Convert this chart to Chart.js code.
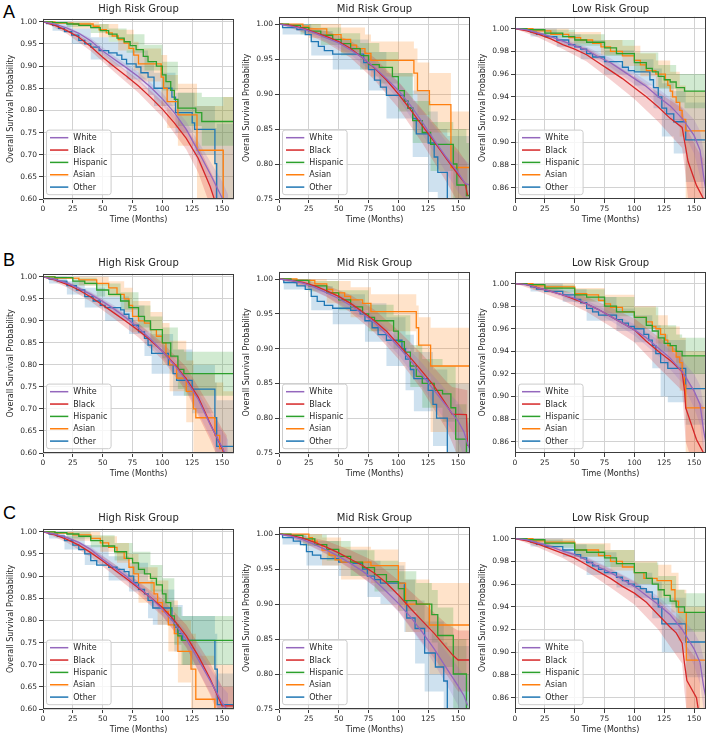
<!DOCTYPE html>
<html>
<head>
<meta charset="utf-8">
<script src="https://cdn.jsdelivr.net/npm/chart.js@4.4.1/dist/chart.umd.min.js"></script>
<style>
  body { margin: 0; background: #fff; }
  #fig { position: relative; width: 709px; height: 739px; overflow: hidden; background: #fff; }
  #fig canvas { position: absolute; }
  .tag { position: absolute; left: 3px; font: 18px "Liberation Sans", Arial, sans-serif; line-height: 18px; color: #000; }
</style>
</head>
<body>
<div id="fig">
  <div class="tag" style="top:2.6px">A</div>
  <div class="tag" style="top:251px">B</div>
  <div class="tag" style="top:504px">C</div>
</div>
<script>
// ── Series / axes ─────────────────────────────────────────────
const SERIES = ["White", "Black", "Hispanic", "Asian", "Other"];
const COLORS = ["#9467bd", "#d62728", "#2ca02c", "#ff7f0e", "#1f77b4"];
const SMOOTH = [true, true, false, false, false];   // large groups look like smooth curves
const X_TICKS = { min: 0, max: 160, step: 25 };
const Y_HIGH = { min: 0.60, max: 1.007, step: 0.05 };
const Y_MID  = { min: 0.75, max: 1.0105, step: 0.05 };
const Y_LOW  = { min: 0.85, max: 1.0105, step: 0.02 };

// ── Data: curves are [month, survival], bands are [month, lower, upper] ──
// Row A
const A_HIGH_WHITE = [[0,1],[10,0.995],[20,0.986],[30,0.974],[40,0.957],[50,0.934],[60,0.915],[70,0.896],[80,0.876],[90,0.853],[100,0.826],[110,0.795],[120,0.757],[130,0.708],[140,0.657],[150,0.603],[155,0.57]];
const A_HIGH_WHITE_CI = [[0,1,1],[20,0.982,0.99],[40,0.951,0.963],[60,0.907,0.922],[80,0.866,0.886],[100,0.813,0.839],[120,0.738,0.775],[140,0.628,0.685],[150,0.565,0.64],[155,0.53,0.61]];
const A_HIGH_BLACK = [[0,1],[10,0.992],[20,0.98],[30,0.965],[40,0.944],[50,0.92],[60,0.898],[70,0.877],[80,0.855],[90,0.83],[100,0.803],[110,0.772],[120,0.737],[130,0.692],[140,0.628],[146,0.58]];
const A_HIGH_BLACK_CI = [[0,1,1],[20,0.973,0.986],[40,0.934,0.953],[60,0.886,0.91],[80,0.84,0.869],[100,0.785,0.82],[120,0.712,0.76],[130,0.66,0.72],[140,0.585,0.665],[146,0.53,0.63]];
const A_HIGH_HISP = [[0,1],[8,0.998],[20,0.995],[30,0.992],[40,0.987],[48,0.98],[55,0.972],[62,0.963],[68,0.955],[73,0.946],[78,0.937],[84,0.922],[88,0.91],[95,0.9],[100,0.88],[103,0.865],[107,0.845],[110,0.825],[113,0.805],[128,0.795],[133,0.775],[160,0.775]];
const A_HIGH_HISP_CI = [[0,1,1],[20,0.988,0.999],[40,0.975,0.995],[55,0.955,0.985],[70,0.93,0.972],[85,0.89,0.948],[100,0.845,0.91],[113,0.765,0.84],[133,0.72,0.83],[160,0.71,0.83]];
const A_HIGH_ASIAN = [[0,1],[10,0.997],[25,0.995],[42,0.99],[47,0.982],[53,0.975],[58,0.968],[63,0.96],[68,0.952],[72,0.94],[76,0.925],[80,0.905],[99,0.875],[101,0.85],[104,0.82],[113,0.79],[129,0.71],[151,0.5],[160,0.5]];
const A_HIGH_ASIAN_CI = [[0,1,1],[25,0.985,1],[47,0.965,0.995],[63,0.935,0.982],[76,0.89,0.955],[80,0.865,0.94],[99,0.81,0.925],[104,0.76,0.88],[113,0.72,0.86],[129,0.58,0.81],[151,0.45,0.83],[160,0.45,0.83]];
const A_HIGH_OTHER = [[0,1],[3,0.996],[8,0.992],[13,0.985],[18,0.978],[24,0.97],[30,0.958],[35,0.95],[40,0.943],[47,0.935],[55,0.93],[62,0.925],[66,0.915],[70,0.905],[78,0.898],[82,0.885],[88,0.875],[93,0.85],[108,0.83],[111,0.795],[125,0.772],[127,0.757],[144,0.68],[145.5,0.5],[160,0.5]];
const A_HIGH_OTHER_CI = [[0,1,1],[8,0.98,1],[24,0.95,0.985],[40,0.915,0.965],[55,0.9,0.955],[70,0.87,0.935],[88,0.835,0.91],[93,0.81,0.885],[111,0.75,0.84],[127,0.7,0.81],[144,0.6,0.76],[145.5,0.5,0.77],[160,0.5,0.77]];

const A_MID_WHITE = [[0,1],[10,0.997],[20,0.993],[30,0.987],[40,0.98],[50,0.973],[60,0.963],[70,0.952],[80,0.938],[90,0.922],[100,0.905],[110,0.884],[120,0.86],[130,0.834],[140,0.81],[150,0.788],[156,0.772],[160,0.77]];
const A_MID_WHITE_CI = [[0,1,1],[20,0.99,0.996],[40,0.975,0.985],[60,0.956,0.97],[80,0.929,0.947],[100,0.893,0.917],[120,0.843,0.876],[140,0.788,0.832],[150,0.76,0.815],[160,0.74,0.8]];
const A_MID_BLACK = [[0,1],[10,0.998],[20,0.994],[30,0.988],[40,0.982],[50,0.975],[60,0.965],[70,0.952],[80,0.937],[90,0.92],[100,0.9],[110,0.878],[120,0.855],[130,0.832],[140,0.808],[150,0.785],[156,0.772],[158,0.755]];
const A_MID_BLACK_CI = [[0,1,1],[20,0.988,0.998],[40,0.973,0.99],[60,0.952,0.976],[80,0.92,0.952],[100,0.88,0.918],[120,0.83,0.878],[140,0.775,0.838],[150,0.745,0.82],[158,0.72,0.8]];
const A_MID_HISP = [[0,1],[8,0.998],[18,0.995],[25,0.99],[35,0.984],[45,0.978],[52,0.972],[60,0.965],[68,0.955],[75,0.942],[84,0.938],[95,0.925],[100,0.905],[105,0.89],[108,0.88],[112,0.862],[120,0.845],[127,0.828],[146,0.8],[149,0.77],[157,0.755],[160,0.755]];
const A_MID_HISP_CI = [[0,1,1],[18,0.985,1],[35,0.97,0.995],[52,0.955,0.987],[68,0.935,0.973],[84,0.915,0.96],[100,0.875,0.93],[112,0.83,0.89],[127,0.79,0.86],[146,0.75,0.85],[157,0.73,0.83],[160,0.73,0.83]];
const A_MID_ASIAN = [[0,1],[20,0.997],[25,0.993],[40,0.985],[52,0.978],[60,0.97],[65,0.965],[72,0.958],[77,0.948],[113,0.93],[116,0.905],[126,0.885],[144,0.795],[160,0.795]];
const A_MID_ASIAN_CI = [[0,1,1],[25,0.98,1],[52,0.96,0.995],[72,0.935,0.985],[77,0.925,0.975],[113,0.9,0.965],[116,0.87,0.945],[126,0.845,0.93],[144,0.73,0.875],[160,0.73,0.875]];
const A_MID_OTHER = [[0,1],[3,0.995],[15,0.992],[22,0.985],[27,0.975],[33,0.968],[38,0.962],[45,0.957],[71,0.945],[75,0.935],[80,0.92],[85,0.91],[90,0.898],[105,0.89],[108,0.88],[112,0.865],[115,0.843],[125,0.83],[130,0.81],[133,0.788],[141,0.7],[160,0.7]];
const A_MID_OTHER_CI = [[0,1,1],[3,0.985,1],[27,0.955,0.99],[45,0.935,0.978],[75,0.905,0.96],[90,0.865,0.93],[112,0.81,0.905],[125,0.76,0.875],[133,0.72,0.85],[141,0.7,0.84],[160,0.7,0.84]];

const A_LOW_WHITE = [[0,1],[10,0.999],[20,0.996],[30,0.993],[40,0.989],[50,0.985],[60,0.981],[70,0.975],[80,0.97],[90,0.963],[100,0.956],[110,0.949],[120,0.94],[130,0.932],[140,0.921],[150,0.906],[155,0.893],[158,0.87],[160,0.857]];
const A_LOW_WHITE_CI = [[0,1,1],[20,0.995,0.997],[40,0.987,0.991],[60,0.978,0.984],[80,0.966,0.974],[100,0.951,0.961],[120,0.933,0.947],[140,0.911,0.931],[150,0.89,0.92],[155,0.87,0.91],[160,0.83,0.88]];
const A_LOW_BLACK = [[0,1],[10,0.998],[20,0.995],[30,0.991],[40,0.986],[50,0.982],[60,0.977],[70,0.97],[80,0.963],[90,0.956],[100,0.948],[110,0.94],[120,0.931],[130,0.921],[140,0.913],[143,0.895],[145,0.883],[152,0.862],[158,0.85]];
const A_LOW_BLACK_CI = [[0,1,1],[20,0.992,0.997],[40,0.982,0.99],[60,0.971,0.983],[80,0.955,0.971],[100,0.938,0.958],[120,0.918,0.944],[140,0.895,0.93],[143,0.87,0.915],[145,0.85,0.91],[152,0.83,0.895],[158,0.82,0.885]];
const A_LOW_HISP = [[0,1],[10,0.999],[25,0.996],[40,0.993],[50,0.99],[60,0.988],[75,0.983],[85,0.978],[100,0.97],[110,0.965],[115,0.962],[120,0.958],[125,0.955],[130,0.953],[135,0.948],[142,0.945],[160,0.945]];
const A_LOW_HISP_CI = [[0,1,1],[25,0.992,0.999],[50,0.985,0.995],[75,0.976,0.99],[100,0.962,0.979],[120,0.947,0.968],[135,0.935,0.96],[142,0.93,0.96],[160,0.93,0.96]];
const A_LOW_ASIAN = [[0,1],[15,0.998],[30,0.995],[45,0.992],[55,0.99],[65,0.987],[72,0.984],[80,0.98],[90,0.976],[100,0.972],[105,0.968],[110,0.963],[118,0.96],[126,0.955],[128,0.95],[130,0.945],[132,0.94],[135,0.935],[138,0.928],[140,0.92],[143,0.91],[160,0.91]];
const A_LOW_ASIAN_CI = [[0,1,1],[15,0.995,1],[45,0.987,0.997],[72,0.977,0.99],[90,0.967,0.985],[105,0.958,0.978],[118,0.948,0.972],[130,0.928,0.962],[138,0.905,0.95],[143,0.83,0.945],[160,0.83,0.945]];
const A_LOW_OTHER = [[0,1],[10,0.999],[13,0.997],[18,0.995],[25,0.993],[35,0.99],[45,0.986],[50,0.984],[55,0.982],[60,0.978],[65,0.975],[75,0.971],[90,0.966],[95,0.963],[100,0.962],[113,0.955],[116,0.948],[120,0.94],[123,0.93],[127,0.925],[133,0.918],[143,0.902],[160,0.902]];
const A_LOW_OTHER_CI = [[0,1,1],[13,0.993,1],[35,0.984,0.995],[55,0.973,0.99],[75,0.96,0.981],[100,0.95,0.973],[116,0.93,0.965],[123,0.905,0.952],[133,0.89,0.945],[143,0.865,0.935],[160,0.865,0.935]];

// Row B
const B_HIGH_WHITE = [[0,1],[10,0.994],[20,0.986],[30,0.974],[40,0.96],[50,0.944],[60,0.926],[70,0.906],[80,0.884],[90,0.859],[100,0.831],[110,0.8],[120,0.765],[130,0.722],[140,0.665],[150,0.613],[155,0.585]];
const B_HIGH_WHITE_CI = [[0,1,1],[20,0.982,0.99],[40,0.954,0.966],[60,0.918,0.934],[80,0.874,0.894],[100,0.818,0.844],[120,0.746,0.784],[140,0.637,0.693],[150,0.575,0.65],[155,0.54,0.63]];
const B_HIGH_BLACK = [[0,1],[10,0.993],[20,0.983],[30,0.97],[40,0.954],[50,0.936],[60,0.917],[70,0.898],[80,0.878],[90,0.856],[100,0.831],[110,0.802],[120,0.768],[130,0.727],[140,0.667],[150,0.61],[154,0.585]];
const B_HIGH_BLACK_CI = [[0,1,1],[20,0.976,0.99],[40,0.944,0.964],[60,0.904,0.93],[80,0.862,0.894],[100,0.812,0.85],[120,0.74,0.795],[140,0.63,0.705],[150,0.565,0.655],[154,0.53,0.64]];
const B_HIGH_HISP = [[0,1],[10,0.998],[25,0.99],[35,0.985],[45,0.97],[55,0.96],[65,0.945],[72,0.93],[80,0.91],[85,0.9],[90,0.88],[100,0.85],[107,0.82],[113,0.79],[118,0.78],[160,0.78]];
const B_HIGH_HISP_CI = [[0,1,1],[25,0.98,0.998],[45,0.955,0.985],[65,0.925,0.965],[80,0.885,0.935],[90,0.85,0.91],[100,0.815,0.885],[113,0.745,0.835],[118,0.73,0.83],[160,0.71,0.83]];
const B_HIGH_ASIAN = [[0,1],[10,0.997],[30,0.993],[45,0.985],[55,0.975],[62,0.96],[68,0.95],[72,0.935],[75,0.91],[80,0.9],[85,0.895],[90,0.88],[95,0.865],[100,0.85],[103,0.82],[106,0.8],[112,0.77],[120,0.74],[126,0.7],[128,0.68],[144,0.64],[148,0.61],[151,0.55],[160,0.55]];
const B_HIGH_ASIAN_CI = [[0,1,1],[30,0.98,1],[55,0.955,0.99],[68,0.92,0.975],[75,0.875,0.945],[90,0.84,0.92],[100,0.8,0.895],[106,0.74,0.855],[120,0.67,0.81],[126,0.58,0.78],[144,0.55,0.76],[151,0.5,0.74],[160,0.5,0.74]];
const B_HIGH_OTHER = [[0,1],[5,0.995],[12,0.99],[20,0.98],[28,0.97],[35,0.955],[42,0.945],[48,0.935],[52,0.93],[65,0.925],[68,0.915],[72,0.905],[75,0.89],[80,0.875],[85,0.86],[88,0.845],[91,0.826],[105,0.8],[109,0.78],[112,0.765],[125,0.745],[144,0.68],[145.5,0.615],[160,0.615]];
const B_HIGH_OTHER_CI = [[0,1,1],[5,0.985,1],[20,0.96,0.99],[35,0.93,0.975],[52,0.9,0.955],[72,0.87,0.935],[85,0.82,0.9],[91,0.78,0.87],[109,0.73,0.835],[125,0.69,0.8],[144,0.6,0.76],[145.5,0.56,0.72],[160,0.56,0.72]];

const B_MID_WHITE = [[0,1],[10,0.998],[20,0.994],[30,0.988],[40,0.98],[50,0.972],[60,0.962],[70,0.95],[80,0.937],[90,0.921],[100,0.903],[110,0.883],[120,0.862],[130,0.84],[140,0.818],[150,0.796],[155,0.78],[158,0.763],[160,0.755]];
const B_MID_WHITE_CI = [[0,1,1],[20,0.991,0.997],[40,0.975,0.985],[60,0.955,0.969],[80,0.928,0.946],[100,0.891,0.915],[120,0.845,0.879],[140,0.795,0.84],[150,0.768,0.823],[158,0.73,0.795],[160,0.72,0.79]];
const B_MID_BLACK = [[0,1],[10,0.998],[20,0.995],[30,0.99],[40,0.983],[50,0.975],[60,0.965],[70,0.953],[80,0.94],[90,0.925],[100,0.906],[110,0.887],[120,0.867],[130,0.846],[140,0.82],[145,0.806],[157,0.805],[158,0.76]];
const B_MID_BLACK_CI = [[0,1,1],[20,0.99,0.999],[40,0.974,0.991],[60,0.952,0.977],[80,0.923,0.956],[100,0.885,0.926],[120,0.84,0.892],[140,0.785,0.853],[145,0.765,0.845],[158,0.71,0.84]];
const B_MID_HISP = [[0,1],[10,0.998],[25,0.99],[40,0.98],[50,0.97],[60,0.96],[70,0.95],[75,0.945],[80,0.94],[96,0.925],[100,0.91],[105,0.895],[110,0.875],[115,0.86],[120,0.85],[130,0.84],[137,0.835],[144,0.815],[148,0.77],[157,0.75],[160,0.75]];
const B_MID_HISP_CI = [[0,1,1],[25,0.982,0.997],[50,0.955,0.984],[75,0.925,0.963],[96,0.9,0.948],[110,0.845,0.905],[120,0.815,0.885],[137,0.795,0.875],[148,0.725,0.82],[157,0.7,0.8],[160,0.7,0.8]];
const B_MID_ASIAN = [[0,1],[15,0.998],[30,0.993],[40,0.985],[45,0.98],[55,0.975],[60,0.97],[70,0.965],[77,0.953],[115,0.93],[117,0.905],[127,0.875],[160,0.875]];
const B_MID_ASIAN_CI = [[0,1,1],[15,0.99,1],[40,0.965,0.997],[60,0.945,0.988],[77,0.925,0.978],[115,0.895,0.962],[117,0.86,0.945],[127,0.78,0.93],[160,0.78,0.93]];
const B_MID_OTHER = [[0,1],[4,0.995],[15,0.99],[22,0.985],[27,0.975],[32,0.968],[38,0.962],[45,0.958],[60,0.955],[68,0.95],[72,0.94],[78,0.93],[83,0.92],[90,0.912],[103,0.9],[106,0.885],[110,0.87],[113,0.857],[125,0.84],[129,0.82],[132,0.8],[141,0.7],[160,0.7]];
const B_MID_OTHER_CI = [[0,1,1],[4,0.985,1],[27,0.955,0.99],[45,0.935,0.978],[72,0.91,0.965],[90,0.875,0.945],[106,0.84,0.92],[113,0.81,0.895],[129,0.76,0.87],[141,0.72,0.85],[160,0.72,0.85]];

const B_LOW_WHITE = [[0,1],[10,0.999],[20,0.996],[30,0.993],[40,0.99],[50,0.987],[60,0.982],[70,0.977],[80,0.971],[90,0.965],[100,0.959],[110,0.952],[120,0.943],[130,0.934],[140,0.922],[150,0.905],[155,0.893],[158,0.87],[160,0.858]];
const B_LOW_WHITE_CI = [[0,1,1],[20,0.995,0.997],[40,0.988,0.992],[60,0.979,0.985],[80,0.967,0.975],[100,0.954,0.964],[120,0.936,0.95],[140,0.912,0.932],[150,0.89,0.92],[155,0.875,0.91],[160,0.835,0.88]];
const B_LOW_BLACK = [[0,1],[10,0.999],[20,0.996],[30,0.993],[40,0.99],[50,0.986],[60,0.982],[70,0.977],[80,0.971],[90,0.965],[100,0.959],[110,0.949],[120,0.94],[130,0.932],[140,0.922],[142,0.905],[143,0.89],[152,0.862],[158,0.85]];
const B_LOW_BLACK_CI = [[0,1,1],[20,0.993,0.998],[40,0.985,0.994],[60,0.975,0.988],[80,0.962,0.979],[100,0.948,0.969],[120,0.926,0.953],[140,0.905,0.938],[143,0.86,0.92],[152,0.83,0.9],[158,0.82,0.89]];
const B_LOW_HISP = [[0,1],[10,0.999],[25,0.996],[50,0.99],[60,0.988],[75,0.98],[85,0.975],[100,0.97],[110,0.963],[115,0.958],[120,0.952],[125,0.947],[130,0.945],[135,0.94],[140,0.936],[160,0.936]];
const B_LOW_HISP_CI = [[0,1,1],[25,0.992,0.999],[50,0.984,0.995],[75,0.971,0.988],[100,0.96,0.979],[120,0.94,0.963],[135,0.925,0.955],[140,0.92,0.952],[160,0.92,0.952]];
const B_LOW_ASIAN = [[0,1],[15,0.998],[25,0.997],[50,0.991],[60,0.99],[70,0.985],[75,0.982],[80,0.979],[90,0.975],[100,0.97],[110,0.966],[115,0.962],[118,0.96],[122,0.955],[126,0.95],[128,0.945],[132,0.94],[135,0.935],[138,0.93],[140,0.92],[142,0.91],[143,0.89],[160,0.89]];
const B_LOW_ASIAN_CI = [[0,1,1],[15,0.995,1],[50,0.985,0.996],[75,0.974,0.99],[100,0.96,0.98],[118,0.947,0.972],[128,0.93,0.962],[138,0.905,0.952],[143,0.85,0.94],[160,0.85,0.94]];
const B_LOW_OTHER = [[0,1],[10,0.999],[13,0.997],[18,0.995],[25,0.993],[40,0.99],[50,0.986],[55,0.983],[60,0.978],[65,0.975],[70,0.972],[85,0.968],[90,0.965],[95,0.962],[100,0.96],[108,0.955],[112,0.95],[115,0.945],[118,0.938],[122,0.93],[128,0.925],[143,0.907],[160,0.907]];
const B_LOW_OTHER_CI = [[0,1,1],[13,0.993,1],[40,0.984,0.995],[60,0.967,0.988],[85,0.958,0.978],[100,0.948,0.972],[115,0.925,0.963],[122,0.9,0.955],[128,0.895,0.95],[143,0.875,0.935],[160,0.875,0.935]];

// Row C
const C_HIGH_WHITE = [[0,1],[10,0.995],[20,0.987],[30,0.976],[40,0.96],[50,0.938],[60,0.919],[70,0.899],[80,0.876],[90,0.852],[100,0.825],[110,0.794],[120,0.757],[130,0.712],[140,0.664],[150,0.615],[155,0.595]];
const C_HIGH_WHITE_CI = [[0,1,1],[20,0.983,0.991],[40,0.954,0.966],[60,0.911,0.927],[80,0.866,0.886],[100,0.812,0.838],[120,0.738,0.776],[140,0.636,0.692],[150,0.58,0.65],[155,0.555,0.635]];
const C_HIGH_BLACK = [[0,1],[10,0.993],[20,0.983],[30,0.97],[40,0.953],[50,0.934],[60,0.914],[70,0.894],[80,0.873],[90,0.852],[100,0.829],[110,0.8],[120,0.765],[130,0.72],[140,0.668],[150,0.607],[160,0.607]];
const C_HIGH_BLACK_CI = [[0,1,1],[20,0.976,0.99],[40,0.943,0.963],[60,0.901,0.927],[80,0.858,0.888],[100,0.81,0.848],[120,0.74,0.79],[140,0.632,0.704],[150,0.565,0.65],[160,0.565,0.65]];
const C_HIGH_HISP = [[0,1],[10,0.998],[20,0.995],[30,0.99],[40,0.98],[50,0.968],[60,0.955],[70,0.94],[75,0.93],[80,0.915],[85,0.905],[90,0.895],[95,0.88],[100,0.86],[103,0.84],[107,0.81],[110,0.79],[113,0.765],[116,0.755],[160,0.755]];
const C_HIGH_HISP_CI = [[0,1,1],[20,0.985,1],[40,0.965,0.992],[60,0.935,0.975],[75,0.905,0.955],[90,0.865,0.925],[100,0.82,0.895],[110,0.745,0.83],[116,0.7,0.81],[160,0.7,0.81]];
const C_HIGH_ASIAN = [[0,1],[10,0.997],[25,0.993],[40,0.985],[48,0.975],[55,0.965],[62,0.955],[68,0.94],[72,0.92],[76,0.905],[80,0.885],[93,0.86],[96,0.84],[100,0.82],[105,0.79],[110,0.77],[113,0.73],[124,0.69],[128,0.622],[144,0.55],[160,0.55]];
const C_HIGH_ASIAN_CI = [[0,1,1],[25,0.98,1],[48,0.955,0.99],[62,0.93,0.975],[72,0.885,0.95],[80,0.84,0.92],[96,0.79,0.89],[105,0.73,0.845],[113,0.66,0.8],[124,0.6,0.77],[128,0.53,0.72],[144,0.5,0.7],[160,0.5,0.7]];
const C_HIGH_OTHER = [[0,1],[5,0.995],[12,0.99],[18,0.98],[25,0.97],[30,0.96],[35,0.95],[40,0.935],[45,0.925],[55,0.92],[62,0.915],[68,0.91],[72,0.9],[76,0.885],[80,0.87],[85,0.86],[88,0.845],[92,0.828],[108,0.8],[110,0.785],[113,0.77],[117,0.755],[144,0.69],[146,0.61],[160,0.61]];
const C_HIGH_OTHER_CI = [[0,1,1],[5,0.985,1],[18,0.96,0.99],[35,0.925,0.97],[55,0.89,0.945],[72,0.865,0.93],[88,0.805,0.89],[92,0.79,0.87],[110,0.73,0.835],[117,0.7,0.81],[144,0.62,0.77],[146,0.56,0.68],[160,0.56,0.68]];

const C_MID_WHITE = [[0,1],[10,0.997],[20,0.992],[30,0.985],[40,0.977],[50,0.968],[60,0.958],[70,0.947],[80,0.934],[90,0.918],[100,0.901],[110,0.882],[120,0.86],[130,0.836],[140,0.809],[150,0.783],[155,0.769],[158,0.755]];
const C_MID_WHITE_CI = [[0,1,1],[20,0.989,0.995],[40,0.972,0.982],[60,0.951,0.965],[80,0.925,0.943],[100,0.889,0.913],[120,0.843,0.877],[140,0.786,0.832],[150,0.755,0.81],[158,0.72,0.79]];
const C_MID_BLACK = [[0,1],[10,0.998],[20,0.994],[30,0.988],[40,0.981],[50,0.973],[60,0.964],[70,0.955],[80,0.944],[90,0.93],[100,0.913],[110,0.894],[120,0.876],[130,0.858],[140,0.838],[145,0.828],[150,0.82],[160,0.82]];
const C_MID_BLACK_CI = [[0,1,1],[20,0.988,0.998],[40,0.971,0.99],[60,0.95,0.977],[80,0.925,0.961],[100,0.89,0.934],[120,0.845,0.903],[140,0.8,0.872],[150,0.775,0.862],[160,0.775,0.862]];
const C_MID_HISP = [[0,1],[10,0.998],[20,0.993],[30,0.985],[40,0.978],[50,0.968],[60,0.96],[70,0.952],[80,0.942],[90,0.932],[100,0.922],[105,0.905],[115,0.9],[128,0.885],[133,0.855],[146,0.8],[157,0.7],[160,0.7]];
const C_MID_HISP_CI = [[0,1,1],[20,0.983,0.999],[40,0.962,0.99],[60,0.94,0.977],[80,0.918,0.962],[100,0.89,0.947],[115,0.865,0.93],[128,0.845,0.92],[133,0.81,0.895],[146,0.75,0.85],[157,0.7,0.8],[160,0.7,0.8]];
const C_MID_ASIAN = [[0,1],[25,0.995],[28,0.99],[32,0.985],[36,0.977],[42,0.97],[47,0.963],[52,0.96],[77,0.955],[100,0.93],[106,0.9],[126,0.87],[160,0.87]];
const C_MID_ASIAN_CI = [[0,1,1],[25,0.985,1],[36,0.955,0.995],[52,0.935,0.982],[77,0.93,0.978],[100,0.895,0.96],[106,0.86,0.935],[126,0.8,0.93],[160,0.8,0.93]];
const C_MID_OTHER = [[0,1],[3,0.995],[12,0.99],[18,0.985],[23,0.975],[28,0.97],[35,0.965],[50,0.96],[62,0.958],[70,0.95],[74,0.94],[80,0.935],[85,0.93],[105,0.905],[107,0.88],[114,0.865],[122,0.83],[131,0.81],[138,0.79],[141,0.7],[160,0.7]];
const C_MID_OTHER_CI = [[0,1,1],[3,0.985,1],[23,0.955,0.99],[50,0.94,0.978],[74,0.91,0.962],[85,0.9,0.955],[105,0.86,0.935],[114,0.815,0.905],[122,0.775,0.875],[138,0.73,0.845],[141,0.7,0.84],[160,0.7,0.84]];

const C_LOW_WHITE = [[0,1],[10,0.999],[20,0.996],[30,0.993],[40,0.989],[50,0.986],[60,0.981],[70,0.975],[80,0.97],[90,0.964],[100,0.958],[110,0.95],[120,0.942],[130,0.933],[140,0.92],[150,0.903],[155,0.891],[158,0.87],[160,0.86]];
const C_LOW_WHITE_CI = [[0,1,1],[20,0.995,0.997],[40,0.987,0.991],[60,0.978,0.984],[80,0.966,0.974],[100,0.953,0.963],[120,0.935,0.949],[140,0.91,0.93],[150,0.888,0.918],[155,0.872,0.908],[160,0.835,0.885]];
const C_LOW_BLACK = [[0,1],[10,0.998],[20,0.995],[30,0.991],[40,0.987],[50,0.983],[60,0.977],[70,0.971],[80,0.965],[90,0.958],[100,0.952],[110,0.944],[120,0.933],[130,0.922],[135,0.917],[140,0.908],[142,0.89],[144,0.875],[152,0.86],[155,0.84]];
const C_LOW_BLACK_CI = [[0,1,1],[20,0.992,0.998],[40,0.983,0.991],[60,0.971,0.983],[80,0.957,0.973],[100,0.942,0.962],[120,0.92,0.946],[140,0.89,0.926],[142,0.865,0.915],[144,0.845,0.905],[155,0.82,0.89]];
const C_LOW_HISP = [[0,1],[10,0.999],[25,0.996],[50,0.99],[60,0.988],[75,0.983],[85,0.978],[100,0.97],[110,0.965],[115,0.96],[120,0.955],[125,0.95],[130,0.945],[135,0.94],[142,0.935],[160,0.935]];
const C_LOW_HISP_CI = [[0,1,1],[25,0.992,0.999],[50,0.984,0.995],[75,0.975,0.99],[100,0.96,0.979],[120,0.942,0.967],[135,0.925,0.955],[142,0.918,0.952],[160,0.918,0.952]];
const C_LOW_ASIAN = [[0,1],[15,0.998],[25,0.997],[50,0.99],[70,0.985],[80,0.98],[90,0.975],[100,0.97],[108,0.965],[119,0.963],[131,0.955],[134,0.945],[137,0.935],[143.5,0.893],[160,0.893]];
const C_LOW_ASIAN_CI = [[0,1,1],[15,0.995,1],[50,0.984,0.996],[80,0.972,0.99],[100,0.96,0.98],[119,0.948,0.977],[131,0.935,0.97],[137,0.91,0.955],[143.5,0.85,0.94],[160,0.85,0.94]];
const C_LOW_OTHER = [[0,1],[10,0.999],[13,0.997],[18,0.995],[25,0.993],[40,0.99],[50,0.986],[55,0.983],[60,0.979],[65,0.976],[70,0.973],[75,0.97],[85,0.966],[90,0.963],[95,0.96],[100,0.958],[105,0.956],[110,0.953],[115,0.947],[120,0.94],[123,0.925],[143,0.909],[160,0.909]];
const C_LOW_OTHER_CI = [[0,1,1],[13,0.993,1],[40,0.984,0.995],[60,0.968,0.988],[85,0.957,0.978],[100,0.948,0.97],[115,0.93,0.962],[123,0.9,0.948],[143,0.878,0.935],[160,0.878,0.935]];

// ── Layout: plot-area boxes [left, top, right, bottom] in page px ──
const ROW_TITLE_Y = [9.3, 263.3, 518.3];
const PANELS = [
  { row: 0, title: "High Risk Group", box: [43, 19, 234, 200],  y: Y_HIGH,
    curves: [A_HIGH_WHITE, A_HIGH_BLACK, A_HIGH_HISP, A_HIGH_ASIAN, A_HIGH_OTHER],
    bands:  [A_HIGH_WHITE_CI, A_HIGH_BLACK_CI, A_HIGH_HISP_CI, A_HIGH_ASIAN_CI, A_HIGH_OTHER_CI] },
  { row: 0, title: "Mid Risk Group", box: [279, 17, 470, 200], y: Y_MID,
    curves: [A_MID_WHITE, A_MID_BLACK, A_MID_HISP, A_MID_ASIAN, A_MID_OTHER],
    bands:  [A_MID_WHITE_CI, A_MID_BLACK_CI, A_MID_HISP_CI, A_MID_ASIAN_CI, A_MID_OTHER_CI] },
  { row: 0, title: "Low Risk Group", box: [515, 17, 706, 200], y: Y_LOW,
    curves: [A_LOW_WHITE, A_LOW_BLACK, A_LOW_HISP, A_LOW_ASIAN, A_LOW_OTHER],
    bands:  [A_LOW_WHITE_CI, A_LOW_BLACK_CI, A_LOW_HISP_CI, A_LOW_ASIAN_CI, A_LOW_OTHER_CI] },
  { row: 1, title: "High Risk Group", box: [43, 274, 234, 454], y: Y_HIGH,
    curves: [B_HIGH_WHITE, B_HIGH_BLACK, B_HIGH_HISP, B_HIGH_ASIAN, B_HIGH_OTHER],
    bands:  [B_HIGH_WHITE_CI, B_HIGH_BLACK_CI, B_HIGH_HISP_CI, B_HIGH_ASIAN_CI, B_HIGH_OTHER_CI] },
  { row: 1, title: "Mid Risk Group", box: [279, 272, 470, 454], y: Y_MID,
    curves: [B_MID_WHITE, B_MID_BLACK, B_MID_HISP, B_MID_ASIAN, B_MID_OTHER],
    bands:  [B_MID_WHITE_CI, B_MID_BLACK_CI, B_MID_HISP_CI, B_MID_ASIAN_CI, B_MID_OTHER_CI] },
  { row: 1, title: "Low Risk Group", box: [515, 272, 706, 454], y: Y_LOW,
    curves: [B_LOW_WHITE, B_LOW_BLACK, B_LOW_HISP, B_LOW_ASIAN, B_LOW_OTHER],
    bands:  [B_LOW_WHITE_CI, B_LOW_BLACK_CI, B_LOW_HISP_CI, B_LOW_ASIAN_CI, B_LOW_OTHER_CI] },
  { row: 2, title: "High Risk Group", box: [43, 529, 234, 710], y: Y_HIGH,
    curves: [C_HIGH_WHITE, C_HIGH_BLACK, C_HIGH_HISP, C_HIGH_ASIAN, C_HIGH_OTHER],
    bands:  [C_HIGH_WHITE_CI, C_HIGH_BLACK_CI, C_HIGH_HISP_CI, C_HIGH_ASIAN_CI, C_HIGH_OTHER_CI] },
  { row: 2, title: "Mid Risk Group", box: [279, 527, 470, 710], y: Y_MID,
    curves: [C_MID_WHITE, C_MID_BLACK, C_MID_HISP, C_MID_ASIAN, C_MID_OTHER],
    bands:  [C_MID_WHITE_CI, C_MID_BLACK_CI, C_MID_HISP_CI, C_MID_ASIAN_CI, C_MID_OTHER_CI] },
  { row: 2, title: "Low Risk Group", box: [515, 527, 706, 710], y: Y_LOW,
    curves: [C_LOW_WHITE, C_LOW_BLACK, C_LOW_HISP, C_LOW_ASIAN, C_LOW_OTHER],
    bands:  [C_LOW_WHITE_CI, C_LOW_BLACK_CI, C_LOW_HISP_CI, C_LOW_ASIAN_CI, C_LOW_OTHER_CI] },
];

// ── Style ─────────────────────────────────────────────────────
const Y_AXIS_W = 40, X_AXIS_H = 28, RIGHT_PAD = 3;
const BAND_ALPHA = 0.22;
const TEXT = "#262626";
const GRID = "#d2d2d2";
const FRAME = "#3c3c3c";
Chart.defaults.font.family = "'DejaVu Sans', sans-serif";

function rgba(hex, a) {
  const n = parseInt(hex.slice(1), 16);
  return `rgba(${n >> 16},${(n >> 8) & 255},${n & 255},${a})`;
}

// matplotlib-style frame round the plot area
const framePlugin = {
  id: "frame",
  afterDatasetsDraw(chart) {
    const { ctx, chartArea: a } = chart;
    ctx.save();
    ctx.strokeStyle = FRAME;
    ctx.lineWidth = 1;
    ctx.strokeRect(Math.round(a.left) + 0.5, Math.round(a.top) + 0.5,
                   Math.round(a.right - a.left) - 1, Math.round(a.bottom - a.top) - 1);
    ctx.restore();
  },
};

// legend box in the lower-left corner of the plot area
const cornerLegend = {
  id: "cornerLegend",
  afterDraw(chart) {
    const { ctx, chartArea: a } = chart;
    const rowH = 12.35, pad = 7.6;
    ctx.save();
    ctx.font = "8px 'DejaVu Sans'";
    const textW = Math.max(...SERIES.map(s => ctx.measureText(s).width));
    const w = 27 + textW + 3.5;
    const h = pad * 2 + rowH * (SERIES.length - 1);
    const x0 = a.left + 3.5, y0 = a.bottom - 4.3 - h, r = 2.5;
    ctx.beginPath();
    ctx.moveTo(x0 + r, y0);
    ctx.arcTo(x0 + w, y0, x0 + w, y0 + h, r);
    ctx.arcTo(x0 + w, y0 + h, x0, y0 + h, r);
    ctx.arcTo(x0, y0 + h, x0, y0, r);
    ctx.arcTo(x0, y0, x0 + w, y0, r);
    ctx.closePath();
    ctx.fillStyle = "rgba(255,255,255,0.8)";
    ctx.fill();
    ctx.strokeStyle = "#cccccc";
    ctx.lineWidth = 1;
    ctx.stroke();
    ctx.textBaseline = "middle";
    SERIES.forEach((s, i) => {
      const yy = y0 + pad + i * rowH;
      ctx.strokeStyle = COLORS[i];
      ctx.lineWidth = 1.5;
      ctx.beginPath();
      ctx.moveTo(x0 + 3.5, yy);
      ctx.lineTo(x0 + 21.8, yy);
      ctx.stroke();
      ctx.fillStyle = TEXT;
      ctx.fillText(s, x0 + 26.8, yy + 0.5);
    });
    ctx.restore();
  },
};

const fig = document.getElementById("fig");

function makePanel(p) {
  const [L, T, R, B] = p.box;
  const q = T - ROW_TITLE_Y[p.row] - 6;
  const titleH = 3 + 12 + q;
  const cv = document.createElement("canvas");
  cv.width = R - L + Y_AXIS_W + RIGHT_PAD;
  cv.height = B - T + titleH + X_AXIS_H;
  cv.style.left = (L - Y_AXIS_W) + "px";
  cv.style.top = (T - titleH) + "px";
  fig.appendChild(cv);

  const lines = p.curves.map((c, i) => ({
    label: SERIES[i],
    data: c.map(([x, y]) => ({ x, y })),
    borderColor: COLORS[i],
    borderWidth: 1.3,
    pointRadius: 0,
    fill: false,
    stepped: SMOOTH[i] ? false : "before",
  }));
  const bands = [];
  p.bands.forEach((b, i) => {
    const st = SMOOTH[i] ? false : "before";
    bands.push({ data: b.map(r => ({ x: r[0], y: r[2] })), borderColor: "transparent", borderWidth: 0.01,
                 pointRadius: 0, fill: false, stepped: st });
    bands.push({ data: b.map(r => ({ x: r[0], y: r[1] })), borderColor: "transparent", borderWidth: 0.01,
                 pointRadius: 0, stepped: st, fill: "-1", backgroundColor: rgba(COLORS[i], BAND_ALPHA) });
  });

  const tickFont = { size: 7.5 };
  new Chart(cv, {
    type: "line",
    data: { datasets: [...lines, ...bands] },
    options: {
      responsive: false,
      animation: false,
      devicePixelRatio: 1,
      events: [],
      layout: { padding: { right: RIGHT_PAD } },
      plugins: {
        legend: { display: false },
        tooltip: { enabled: false },
        filler: { drawTime: "beforeDatasetsDraw" },
        title: { display: true, fullSize: false, text: p.title, color: TEXT, font: { size: 10, weight: "normal" },
                 padding: { top: 3, bottom: q } },
      },
      scales: {
        x: {
          type: "linear", min: X_TICKS.min, max: X_TICKS.max,
          ticks: { stepSize: X_TICKS.step, includeBounds: false, autoSkip: false, maxRotation: 0,
                   font: tickFont, color: TEXT, padding: 2 },
          grid: { color: GRID, lineWidth: 1, tickColor: FRAME, tickLength: 4 },
          border: { display: false },
          title: { display: true, text: "Time (Months)", color: TEXT, font: { size: 8 },
                   padding: { top: 0, bottom: 2.5 } },
          afterFit: s => { s.height = X_AXIS_H; },
        },
        y: {
          type: "linear", min: p.y.min, max: p.y.max,
          ticks: { stepSize: p.y.step, includeBounds: false, autoSkip: false,
                   font: tickFont, color: TEXT, padding: 2, callback: v => v.toFixed(2) },
          grid: { color: GRID, lineWidth: 1, tickColor: FRAME, tickLength: 4 },
          border: { display: false },
          title: { display: true, text: "Overall Survival Probability", color: TEXT, font: { size: 8 },
                   padding: { top: 3, bottom: 0 } },
          afterFit: s => { s.width = Y_AXIS_W; },
        },
      },
    },
    plugins: [framePlugin, cornerLegend],
  });
}

PANELS.forEach(makePanel);
</script>
</body>
</html>
